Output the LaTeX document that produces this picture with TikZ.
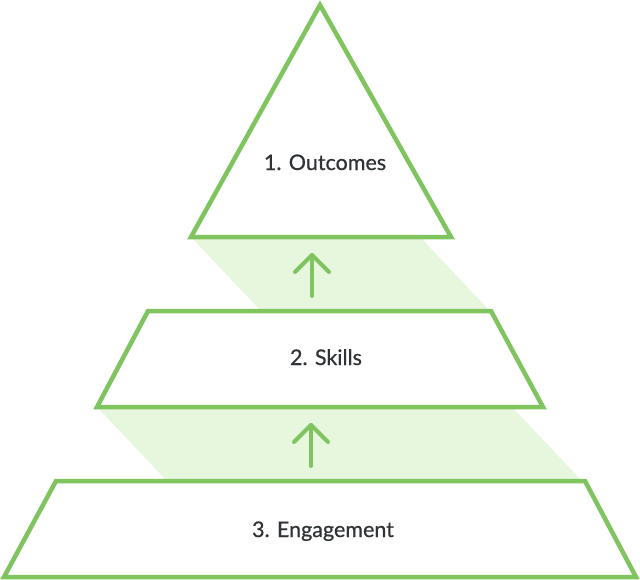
\documentclass[tikz,border=0pt]{standalone}
\usepackage{fontspec}
\setmainfont{Lato}[FakeBold=0.6]
\usetikzlibrary{calc}
\definecolor{pgreen}{HTML}{80C460}
\definecolor{pshade}{HTML}{E6F7DE}
\definecolor{ptext}{HTML}{2F3336}
\begin{document}
\begin{tikzpicture}[x=1pt,y=-1pt,
  outline/.style={draw=pgreen,line width=4.5pt,line join=miter,fill=white},
  shade/.style={fill=pshade,draw=none},
  uparrow/.style={draw=pgreen,line width=4pt,line cap=round,line join=round},
  lbl/.style={font=\fontsize{21.5}{24}\selectfont,text=ptext,inner sep=0pt,anchor=base}]
\useasboundingbox (0,0) rectangle (640,579);
% shaded connectors
\fill[shade] (191,237) -- (420,237) -- (490,311) -- (261,311) -- cycle;
\fill[shade] (97,407) -- (512,407) -- (582,481) -- (167,481) -- cycle;
% levels
\draw[outline] (320,5) -- (451,237) -- (191,237) -- cycle;
\draw[outline] (148,311) -- (491,311) -- (543,407) -- (97,407) -- cycle;
\draw[outline] (56,481) -- (585,481) -- (636,577) -- (4,577) -- cycle;
% labels
\node[lbl] (t1) at (325,170) {1. Outcomes};
\node[lbl] (t2) at (326,365) {2. Skills};
\node[lbl] (t3) at (323,537) {3. Engagement};
% arrows
\coordinate (a1s) at (312,296);
\coordinate (a1e) at (312,255);
\coordinate (a2s) at (311,466);
\coordinate (a2e) at (311,425);
\draw[uparrow] (a1s) -- (a1e);
\draw[uparrow] ($(a1e)+(-17,17)$) -- (a1e) -- ($(a1e)+(17,17)$);
\draw[uparrow] (a2s) -- (a2e);
\draw[uparrow] ($(a2e)+(-17,17)$) -- (a2e) -- ($(a2e)+(17,17)$);
\end{tikzpicture}
\end{document}
